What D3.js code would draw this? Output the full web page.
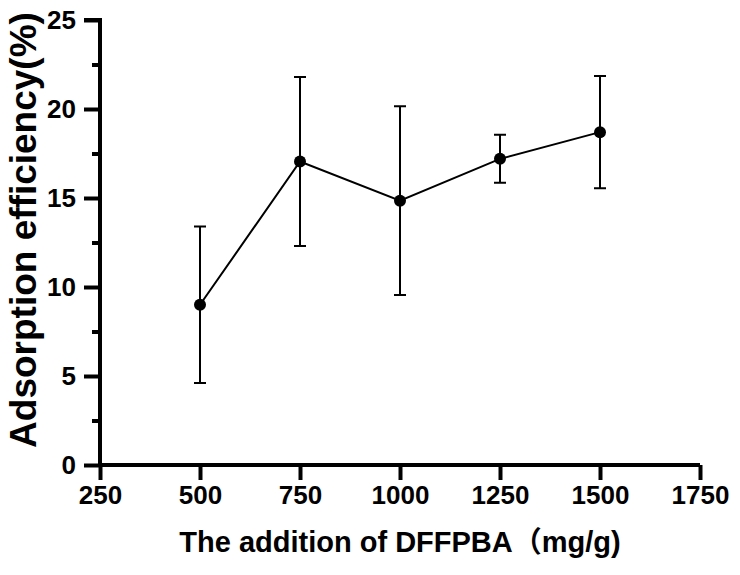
<!DOCTYPE html>
<html><head><meta charset="utf-8">
<script src="https://cdn.jsdelivr.net/npm/d3@7"></script>
<style>body{margin:0;background:#fff}svg{display:block}</style>
</head><body>
<svg id="c" width="740" height="575"></svg>
<script>
const doses = [500, 750, 1000, 1250, 1500];
const efficiency = [9.0, 17.05, 14.85, 17.2, 18.7];
const errors = [4.4, 4.75, 5.3, 1.35, 3.15];
const xTicks = [250, 500, 750, 1000, 1250, 1500, 1750];
const yTicks = [0, 5, 10, 15, 20, 25];
const yMinor = [2.5, 7.5, 12.5, 17.5, 22.5];
const xTitle = "The addition of DFFPBA\uFF08mg/g)";
const yTitle = "Adsorption efficiency(%)";

const svg = d3.select("#c");
const font = "'Liberation Sans', Arial, 'Noto Sans CJK SC', sans-serif";
const x = d3.scaleLinear().domain([250, 1750]).range([100, 700]);
const y = d3.scaleLinear().domain([0, 25]).range([465, 20]);

// y axis
const ya = svg.append("g").attr("transform", "translate(100,0)")
  .call(d3.axisLeft(y).tickValues(yTicks).tickSize(16).tickPadding(8).tickFormat(d3.format("d")));
ya.select(".domain").attr("stroke-width", 4).attr("d", `M-16,${y(25)}H0V${y(0)}`);
ya.selectAll(".tick line").attr("stroke-width", 4);
ya.selectAll(".tick text").attr("font-family", font).attr("font-weight", "bold").attr("font-size", 26).attr("fill", "#000");
svg.append("g").attr("transform", "translate(100,0)")
  .call(d3.axisLeft(y).tickValues(yMinor).tickSize(8).tickFormat(""))
  .call(g => { g.select(".domain").remove(); g.selectAll(".tick line").attr("stroke-width", 4); });

// x axis
const xa = svg.append("g").attr("transform", "translate(0,465)")
  .call(d3.axisBottom(x).tickValues(xTicks).tickSize(15).tickPadding(6).tickFormat(d3.format("d")));
xa.select(".domain").attr("stroke-width", 4).attr("d", `M${x(250)},0H${x(1750)}`);
xa.selectAll(".tick line").attr("stroke-width", 4);
xa.selectAll(".tick text").attr("font-family", font).attr("font-weight", "bold").attr("font-size", 26).attr("fill", "#000");

// error bars
const eb = svg.append("g").attr("stroke", "#000").attr("stroke-width", 2).attr("fill", "none");
doses.forEach((d, i) => {
  const cx = x(d), hi = y(efficiency[i] + errors[i]), lo = y(efficiency[i] - errors[i]);
  eb.append("path").attr("d", `M${cx},${hi}V${lo}M${cx-6},${hi}H${cx+6}M${cx-6},${lo}H${cx+6}`);
});

// line
const pts = doses.map((d, i) => [d, efficiency[i]]);
svg.append("path").datum(pts)
  .attr("d", d3.line().x(p => x(p[0])).y(p => y(p[1])))
  .attr("fill", "none").attr("stroke", "#000").attr("stroke-width", 2);
svg.append("g").selectAll("circle").data(pts).join("circle")
  .attr("cx", p => x(p[0])).attr("cy", p => y(p[1])).attr("r", 6).attr("fill", "#000");

// titles
svg.append("text").attr("x", 400).attr("y", 552).attr("text-anchor", "middle")
  .attr("font-family", font).attr("font-weight", "bold").attr("font-size", 29).text(xTitle);
svg.append("text").attr("transform", "translate(36,230) rotate(-90)").attr("text-anchor", "middle")
  .attr("font-family", font).attr("font-weight", "bold").attr("font-size", 37).text(yTitle);
</script>
</body></html>
